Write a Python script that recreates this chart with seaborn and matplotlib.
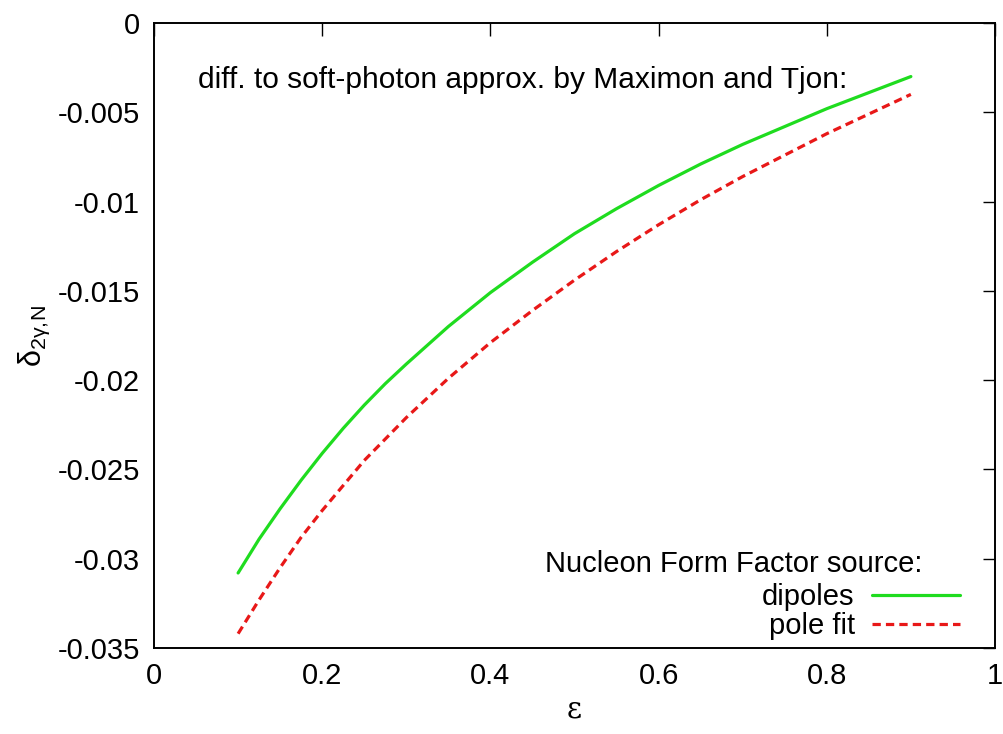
import matplotlib
matplotlib.use("Agg")
import matplotlib.pyplot as plt
import seaborn as sns
import pandas as pd
from matplotlib.lines import Line2D

eps = [0.100, 0.125, 0.150, 0.175, 0.200, 0.225, 0.250, 0.275, 0.300, 0.35, 0.40, 0.45, 0.50,
       0.55, 0.60, 0.65, 0.70, 0.75, 0.80, 0.85, 0.90]
dipoles = [-0.0308, -0.0289, -0.0272, -0.0256, -0.0241, -0.0227, -0.0214, -0.0202, -0.0191,
           -0.0170, -0.0151, -0.0134, -0.0118, -0.0104, -0.0091, -0.0079, -0.0068, -0.0058,
           -0.0048, -0.0039, -0.0030]
pole_fit = [-0.0342, -0.0323, -0.0305, -0.0288, -0.0273, -0.0259, -0.0245, -0.0233, -0.0221,
            -0.0199, -0.0179, -0.0161, -0.0144, -0.0128, -0.0113, -0.0099, -0.0086, -0.0074,
            -0.0062, -0.0051, -0.0040]
x_ticks = [0, 0.2, 0.4, 0.6, 0.8, 1]
y_ticks = [-0.035, -0.03, -0.025, -0.02, -0.015, -0.01, -0.005, 0]
labels = ["dipoles", "pole fit"]

sns.set_style("white")
plt.rcParams['font.family'] = ['Liberation Sans', 'DejaVu Sans']
plt.rcParams['axes.unicode_minus'] = False
plt.rcParams['text.color'] = 'black'
plt.rcParams['axes.labelcolor'] = 'black'
plt.rcParams['mathtext.fontset'] = 'custom'
plt.rcParams['mathtext.rm'] = 'Liberation Sans'
plt.rcParams['mathtext.it'] = 'Liberation Sans:italic'

df = pd.DataFrame({"eps": eps * 2, "val": dipoles + pole_fit,
                   "src": [labels[0]] * len(eps) + [labels[1]] * len(eps)})

fig = plt.figure(figsize=(10.04, 7.34), dpi=100)
ax = fig.add_axes([0.1534, 0.1172, 0.8376, 0.8515])

sns.lineplot(data=df, x="eps", y="val", hue="src", style="src",
             palette={labels[0]: "#1fdc1f", labels[1]: "#e81818"},
             dashes={labels[0]: "", labels[1]: (2.6, 1.6)},
             linewidth=2.3, ax=ax, legend=False)

ax.set_xlim(0, 1)
ax.set_ylim(-0.035, 0)
ax.set_xticks(x_ticks)
ax.set_xticklabels(["%g" % t for t in x_ticks])
ax.set_yticks(y_ticks)
ax.set_yticklabels(["%g" % t for t in y_ticks])
ax.tick_params(direction="in", length=9, width=1.0, top=True, right=True,
               labelsize=21, pad=10, colors="black")
for s in ax.spines.values():
    s.set_visible(True)
    s.set_color("black")
    s.set_linewidth(1.4)

ax.set_xlabel("ε", fontsize=21, family=['DejaVu Serif'], labelpad=4)
ax.set_ylabel(r"$\mathregular{\delta_{2\gamma,\!N}}$", fontsize=22, labelpad=4)

ax.text(0.052, -0.0032, "diff. to soft-photon approx. by Maximon and Tjon:",
        fontsize=21.5, ha="left", va="center", color="black")

ax.text(0.914, -0.0303, "Nucleon Form Factor source:", fontsize=21, ha="right",
        va="center", color="black")

handles = [Line2D([], [], color="#1fdc1f", lw=2.3),
           Line2D([], [], color="#e81818", lw=2.3, dashes=(2.6, 1.6))]
ax.legend(handles, labels, loc="lower right", bbox_to_anchor=(0.958, 0.012),
          frameon=False, markerfirst=False, fontsize=21, handlelength=3.0,
          handletextpad=0.6, labelspacing=0.05, borderpad=0, borderaxespad=0,
          labelcolor="black")

fig.savefig("out.png", dpi=100)
